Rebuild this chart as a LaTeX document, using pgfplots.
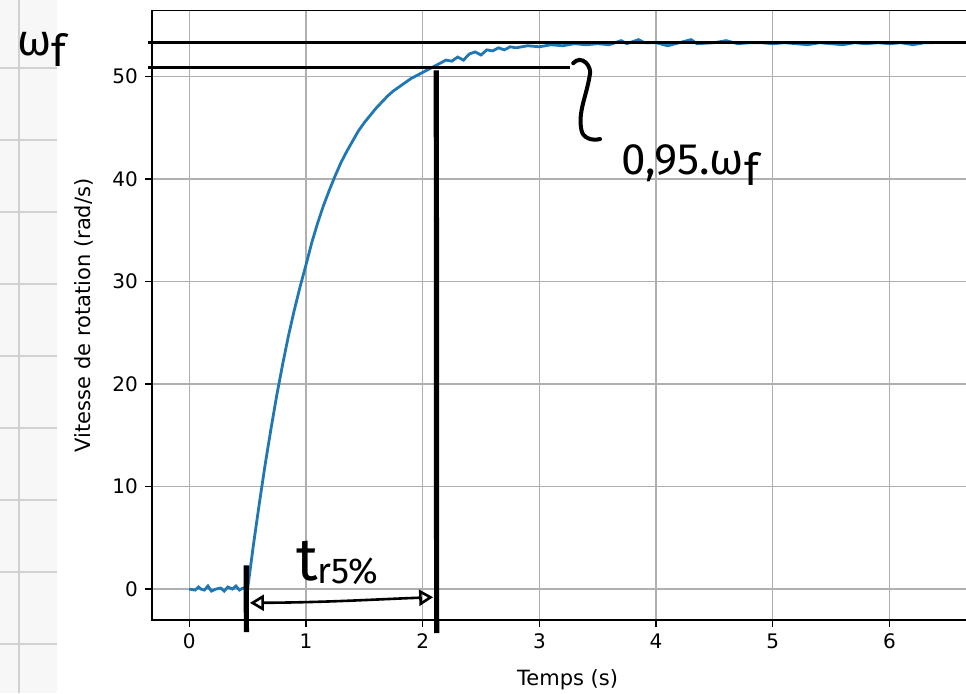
\documentclass[border=0pt]{standalone}
\usepackage{fontspec}
\setmainfont{DejaVu Sans}
\newfontfamily\hand{Fira Sans}
\usepackage{pgfplots}
\pgfplotsset{compat=1.18}
\usetikzlibrary{arrows.meta}
\definecolor{mplblue}{HTML}{1F77B4}
\definecolor{mplgrid}{HTML}{B0B0B0}

\begin{document}
\begin{tikzpicture}
\useasboundingbox (0,0) rectangle (483pt,346.5pt);
% notebook margin on the left
\fill[black!3] (0,0) rectangle (28.5pt,346.5pt);
\foreach \py in {68,140,...,644}
  \draw[black!18, line width=0.6pt] (0,{(693-\py)/2*1pt}) -- (28.5pt,{(693-\py)/2*1pt});
\draw[black!18, line width=0.6pt] (9.5pt,0) -- (9.5pt,346.5pt);

\begin{axis}[
  at={(76pt,36.5pt)}, anchor=south west,
  scale only axis, width=409.6pt, height=304.7pt,
  xmin=-0.319, xmax=6.70, ymin=-3.02, ymax=56.43,
  xtick={0,...,6}, ytick={0,10,...,50},
  grid=major, major grid style={mplgrid, line width=0.6pt},
  tick align=outside, tick pos=left, major tick length=3.5pt,
  tick style={black, line width=0.6pt},
  axis line style={line width=0.75pt},
  /pgf/number format/assume math mode=true,
  ticklabel style={font=\fontsize{10}{12}\selectfont},
  label style={font=\fontsize{10.5}{12}\selectfont},
  xlabel={Temps (s)}, ylabel={Vitesse de rotation (rad/s)},
  xlabel style={yshift=-3.5pt, xshift=3pt},
  ylabel style={yshift=2.5pt},
  clip=false,
]
\addplot[mplblue, line width=1.4pt] coordinates {
  (0.00,0.0) (0.05,-0.1) (0.08,0.2) (0.10,0.0) (0.13,-0.1) (0.16,0.3)
  (0.19,-0.2) (0.23,0.0) (0.27,0.1) (0.30,-0.2) (0.33,0.2) (0.37,0.0)
  (0.40,0.3) (0.43,-0.1) (0.46,0.1) (0.50,0.0)
  (0.55,4.3) (0.60,8.3) (0.65,12.1) (0.70,15.6) (0.75,18.9) (0.80,21.9)
  (0.85,24.7) (0.90,27.2) (0.95,29.5) (1.00,31.6) (1.05,33.8) (1.10,35.7)
  (1.15,37.4) (1.20,38.9) (1.25,40.3) (1.30,41.6) (1.35,42.7) (1.40,43.7)
  (1.45,44.7) (1.50,45.5) (1.55,46.2) (1.60,46.9) (1.65,47.5) (1.70,48.1)
  (1.75,48.6) (1.80,49.0) (1.85,49.4) (1.90,49.8) (1.95,50.1) (2.00,50.4)
  (2.05,50.7) (2.10,51.0) (2.15,51.3) (2.20,51.6) (2.25,51.5) (2.30,51.9)
  (2.35,51.6) (2.40,52.2) (2.45,52.4) (2.50,52.1) (2.55,52.6) (2.60,52.5)
  (2.65,52.8) (2.70,52.6) (2.75,52.9) (2.80,52.8) (2.90,53.0) (3.00,52.9)
  (3.10,53.1) (3.20,53.0) (3.30,53.2) (3.40,53.1) (3.50,53.2) (3.60,53.1)
  (3.70,53.5) (3.75,53.2) (3.85,53.6) (3.90,53.3) (4.00,53.3) (4.10,53.0)
  (4.20,53.3) (4.30,53.6) (4.35,53.2) (4.50,53.3) (4.60,53.5) (4.70,53.2)
  (4.80,53.3) (4.90,53.3) (5.00,53.2) (5.10,53.3) (5.20,53.2) (5.30,53.1)
  (5.40,53.3) (5.50,53.2) (5.60,53.1) (5.70,53.3) (5.80,53.2) (5.90,53.3)
  (6.00,53.2) (6.10,53.3) (6.20,53.1) (6.30,53.3) (6.38,53.3)
};

% hand-drawn annotations
\draw[line width=1.5pt] (axis cs:-0.35,53.3) -- (axis cs:6.8,53.3);
\draw[line width=1.5pt] (axis cs:-0.35,50.9) -- (axis cs:3.26,50.9);
\draw[line width=2.6pt] (axis cs:2.117,50.6) -- (axis cs:2.12,-4.3);
\draw[line width=2.6pt] (axis cs:0.488,2.3) -- (axis cs:0.49,-4.2);
\draw[line width=1.3pt, {Triangle[open,length=7pt,width=8pt]}-{Triangle[open,length=7pt,width=8pt]}]
  (axis cs:0.52,-1.35) .. controls (axis cs:1.2,-1.3) and (axis cs:1.6,-1.0) .. (axis cs:2.09,-0.8);
\draw[line width=2pt, line cap=round]
  (axis cs:3.29,51.3) .. controls (axis cs:3.36,52.2) and (axis cs:3.46,51.0) .. (axis cs:3.43,50.0)
  .. controls (axis cs:3.40,48.0) and (axis cs:3.33,46.5) .. (axis cs:3.36,44.8)
  .. controls (axis cs:3.37,44.0) and (axis cs:3.45,43.7) .. (axis cs:3.52,43.9);
\node[font=\hand\fontsize{22}{22}\selectfont] at (axis cs:4.29,41.4)
  {0,95.ω\raisebox{-0.25em}{f}};
\node[font=\hand\fontsize{22}{22}\selectfont] at (axis cs:-1.26,52.6)
  {ω\raisebox{-0.25em}{f}};
\node[font=\hand\fontsize{30}{30}\selectfont] at (axis cs:1.27,2.6)
  {t\raisebox{-0.05em}{\fontsize{18}{18}\selectfont r5\%}};
\end{axis}
\end{tikzpicture}
\end{document}
